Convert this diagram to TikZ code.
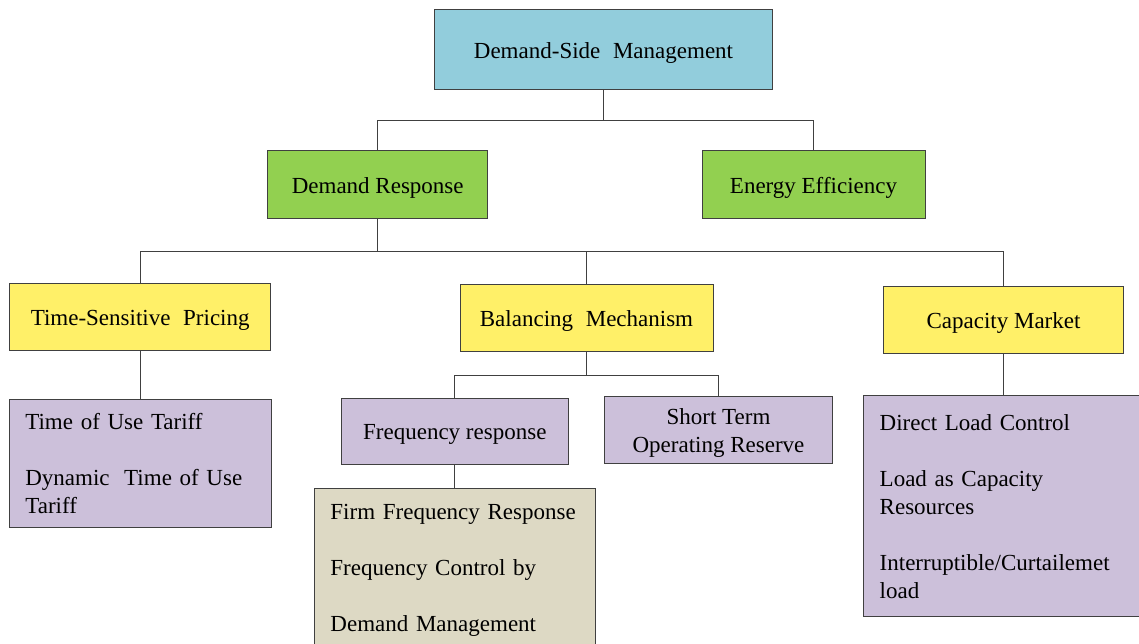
\documentclass[tikz,border=0pt]{standalone}
\usepackage{fontspec}
\setmainfont{Liberation Serif}
\definecolor{edgegray}{RGB}{64,64,64}
\definecolor{dsmblue}{RGB}{146,205,220}
\definecolor{drgreen}{RGB}{146,208,80}
\definecolor{mechyellow}{RGB}{255,240,104}
\definecolor{leafpurple}{RGB}{204,192,218}
\definecolor{leaftan}{RGB}{221,217,196}
\tikzset{
  box/.style={draw=edgegray, line width=1pt, inner sep=0pt,
    font=\fontsize{23}{28}\selectfont, align=center},
  onebox/.style={box, text height=22pt, text depth=5pt},
  listbox/.style={box, align=left, inner xsep=16pt},
  link/.style={draw=edgegray, line width=1pt}
}
\begin{document}
\begin{tikzpicture}[x=1pt,y=-1pt]
\useasboundingbox (0,0) rectangle (1139,644);
\clip (0,0) rectangle (1139,644);

% top level
\node[onebox, fill=dsmblue, minimum width=337.6pt, minimum height=80pt] (dsm) at (603.5,50) {Demand-Side\hspace{0.3em} Management};

% second level
\node[onebox, fill=drgreen, minimum width=219.5pt, minimum height=67.5pt] (dr) at (377.7,184.7) {Demand Response};
\node[onebox, fill=drgreen, minimum width=223pt, minimum height=67.5pt] (ee) at (813.5,184.7) {Energy Efficiency};

% third level
\node[onebox, fill=mechyellow, minimum width=260.7pt, minimum height=66.7pt] (tsp) at (140.2,317.3) {Time-Sensitive\hspace{0.3em} Pricing};
\node[onebox, fill=mechyellow, minimum width=253pt, minimum height=67pt] (bm) at (586.5,317.5) {Balancing\hspace{0.3em} Mechanism};
\node[onebox, fill=mechyellow, minimum width=239.4pt, minimum height=67.3pt] (cm) at (1003.5,320.3) {Capacity Market};

% leaves
\node[listbox, fill=leafpurple, text width=229.7pt, minimum height=127.7pt] (tou) at (140.2,463.8)
  {Time of Use Tariff\\[28pt]Dynamic\hspace{0.3em} Time of Use\\Tariff};
\node[onebox, fill=leafpurple, minimum width=227pt, minimum height=66pt] (fr) at (454.8,431) {Frequency response};
\node[box, fill=leafpurple, minimum width=227.6pt, minimum height=67.3pt] (stor) at (718.5,429.7) {\rule{0pt}{22pt}Short Term\\Operating Reserve};
\node[listbox, fill=leaftan, text width=248.7pt, minimum height=163.3pt] (ffr) at (454.8,570.3)
  {Firm Frequency Response\\[28pt]Frequency Control by\\[28pt]Demand Management};
\node[listbox, fill=leafpurple, text width=247.6pt, minimum height=221pt] (cmc) at (1003.5,506.2)
  {Direct Load Control\\[28pt]Load as Capacity\\Resources\\[28pt]Interruptible/Curtailemet\\load};

% connectors
\draw[link] (dsm.south) -- ++(0,30) -| (dr.north);
\draw[link] (dsm.south) -- ++(0,30) -| (ee.north);
\draw[link] (dr.south) -- ++(0,32.5) -| (tsp.north);
\draw[link] (dr.south) -- ++(0,32.5) -| (bm.north);
\draw[link] (dr.south) -- ++(0,32.5) -| (cm.north);
\draw[link] (tsp.south) -- (tou.north);
\draw[link] (bm.south) -- ++(0,24) -| (fr.north);
\draw[link] (bm.south) -- ++(0,24) -| (stor.north);
\draw[link] (fr.south) -- (ffr.north);
\draw[link] (cm.south) -- (cmc.north);
\end{tikzpicture}
\end{document}
